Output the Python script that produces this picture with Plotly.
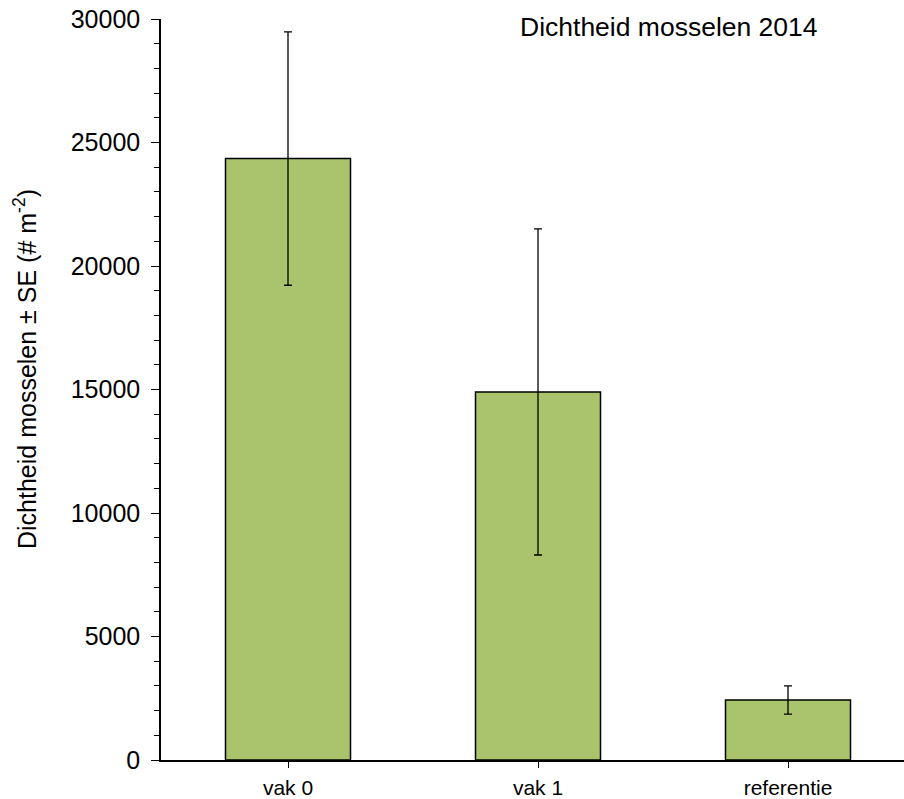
import plotly.graph_objects as go

categories = ["vak 0", "vak 1", "referentie"]
density = [24350, 14900, 2430]
se = [5130, 6600, 575]
y_ticks = [0, 5000, 10000, 15000, 20000, 25000, 30000]
y_ticktext = ["0", "5000", "10000", "15000", "20000", "25000", "30000"]
title_text = "Dichtheid mosselen 2014"
y_title = "Dichtheid mosselen ± SE (# m<sup>-2</sup>)"

FONT = "Liberation Sans, Arial, sans-serif"
xr = [-0.508, 2.464]
yr = [0, 30000]
L, T, B, W, H = 161, 19, 39, 904, 799
plot_w = W - L
plot_h = H - T - B

fig = go.Figure()
fig.add_trace(go.Bar(
    x=categories, y=density,
    width=0.5,
    marker=dict(color="#a9c46c", line=dict(color="black", width=1.5)),
    error_y=dict(type="data", array=se, visible=True, color="black", thickness=1.3, width=4),
    showlegend=False,
))

fig.update_layout(
    width=W, height=H,
    margin=dict(l=L, r=0, t=T, b=B),
    plot_bgcolor="white", paper_bgcolor="white",
    font=dict(family=FONT, color="black"),
    xaxis=dict(
        type="category", range=xr, showline=True, linecolor="black", linewidth=1.5,
        ticks="outside", ticklen=6, tickcolor="black", tickwidth=1.3,
        tickfont=dict(size=21), showgrid=False, zeroline=False, automargin=False,
        ticklabelstandoff=2,
    ),
    xaxis2=dict(
        overlaying="x", anchor="y", range=xr, tickvals=[0.5, 1.5],
        ticks="inside", ticklen=7, tickcolor="black", tickwidth=1.3,
        showticklabels=False, showgrid=False, zeroline=False, showline=False,
    ),
    xaxis3=dict(
        overlaying="x", anchor="y", range=xr, tickvals=[0.5, 1.5],
        ticks="outside", ticklen=7, tickcolor="black", tickwidth=1.3,
        showticklabels=False, showgrid=False, zeroline=False, showline=False,
    ),
    yaxis=dict(
        range=yr, tickvals=y_ticks, ticktext=y_ticktext, showline=True, linecolor="black", linewidth=1.5,
        ticks="outside", ticklen=8, tickcolor="black", tickwidth=1.3,
        minor=dict(ticks="outside", dtick=1000, ticklen=5, tickcolor="black", tickwidth=1.3, showgrid=False),
        tickfont=dict(size=25), showgrid=False, zeroline=False, ticklabelstandoff=6,
        automargin=False,
    ),
    yaxis2=dict(
        overlaying="y", anchor="x", range=yr, tickvals=y_ticks,
        ticks="inside", ticklen=8, tickcolor="black", tickwidth=1.3,
        showticklabels=False, showgrid=False, zeroline=False, showline=False,
    ),
    annotations=[
        dict(
            text=title_text, xref="paper", yref="paper", x=(669 - L) / plot_w, y=1 - (27 - T) / plot_h,
            xanchor="center", yanchor="middle", showarrow=False, font=dict(size=26.5),
        ),
        dict(
            text=y_title, xref="paper", yref="paper", x=(25 - L) / plot_w, y=1 - (369 - T) / plot_h,
            xanchor="center", yanchor="middle", showarrow=False, textangle=-90, font=dict(size=25),
        ),
    ],
)

fig.write_html(
    "out.html",
    config={"displayModeBar": False},
    post_script="document.body.style.margin='0';document.body.style.overflow='hidden';",
)
